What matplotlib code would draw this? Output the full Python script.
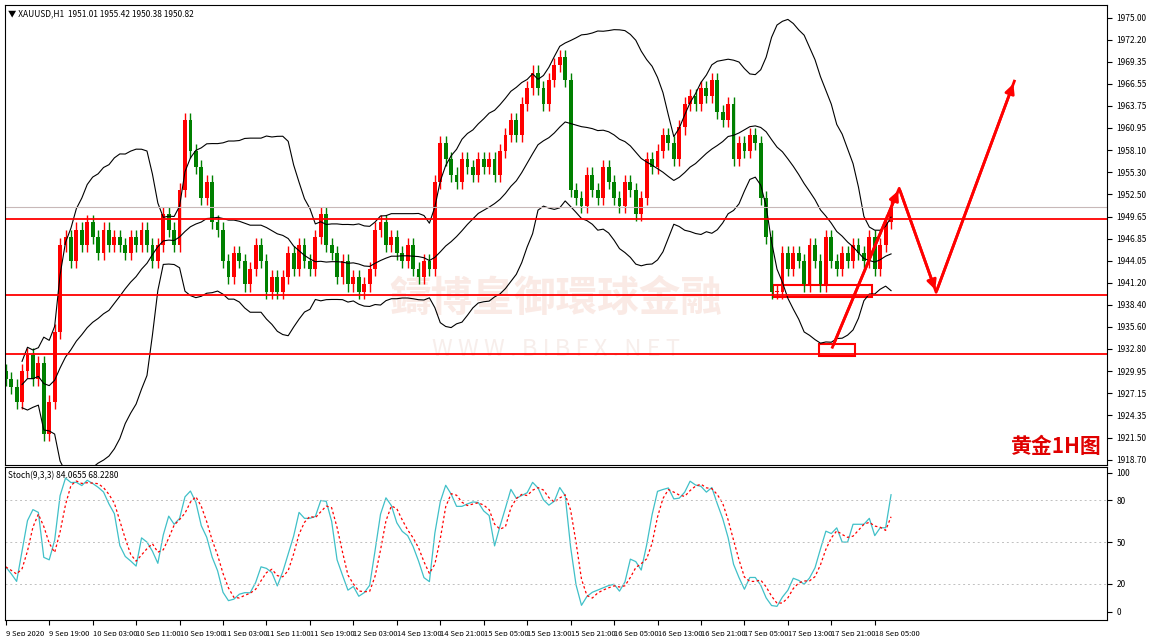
import numpy as np
import pandas as pd
import matplotlib.pyplot as plt
from matplotlib.patches import Rectangle

plt.rcParams['font.family'] = ['Noto Sans CJK SC', 'DejaVu Sans']

# hourly closes XAUUSD H1
closes = [
    1929, 1928, 1926, 1930, 1932, 1929, 1931, 1922, 1926, 1935,
    1946, 1947, 1944, 1948, 1946, 1949, 1947, 1945, 1948, 1946,
    1947, 1946, 1945, 1947, 1946, 1948, 1946, 1944, 1946, 1950,
    1948, 1946, 1953, 1962, 1958, 1956, 1952, 1954, 1949, 1948,
    1944, 1942, 1945, 1944, 1941, 1943, 1946, 1944, 1940, 1942,
    1940, 1942, 1945, 1943, 1946, 1944, 1943, 1947, 1950, 1946,
    1945, 1942, 1944, 1941, 1942, 1940, 1941, 1943, 1948, 1949,
    1946, 1947, 1945, 1944, 1946, 1943, 1942, 1944, 1943, 1954,
    1959, 1957, 1955, 1954, 1957, 1956, 1955, 1957, 1956, 1957,
    1955, 1958, 1960, 1962, 1960, 1964, 1966, 1968, 1966, 1964,
    1967, 1969, 1970, 1967, 1953, 1952, 1951, 1955, 1953, 1952,
    1956, 1954, 1952, 1951, 1954, 1953, 1950, 1952, 1957, 1956,
    1958, 1960, 1959, 1957, 1961, 1964, 1965, 1964, 1966, 1965,
    1967, 1963, 1962, 1964, 1957, 1959, 1958, 1960, 1959, 1952,
    1947, 1940, 1940, 1945, 1943, 1945, 1944, 1941, 1946, 1944,
    1941, 1947, 1944, 1943, 1945, 1944, 1946, 1945, 1944, 1947,
    1943, 1946, 1949, 1950.82,
]
first_open = 1930.0
wick = 0.9

time_labels = ["9 Sep 2020", "9 Sep 19:00", "10 Sep 03:00", "10 Sep 11:00", "10 Sep 19:00",
               "11 Sep 03:00", "11 Sep 11:00", "11 Sep 19:00", "12 Sep 03:00", "14 Sep 13:00",
               "14 Sep 21:00", "15 Sep 05:00", "15 Sep 13:00", "15 Sep 21:00", "16 Sep 05:00",
               "16 Sep 13:00", "16 Sep 21:00", "17 Sep 05:00", "17 Sep 13:00", "17 Sep 21:00",
               "18 Sep 05:00"]
price_ticks = [1975.00, 1972.20, 1969.35, 1966.55, 1963.75, 1960.95, 1958.10, 1955.30,
               1952.50, 1949.65, 1946.85, 1944.05, 1941.20, 1938.40, 1935.60, 1932.80,
               1929.95, 1927.15, 1924.35, 1921.50, 1918.70]
support_levels = [1949.4, 1939.7, 1932.2]
last_price = 1950.82
boxes = [(141.2, 1939.4, 159.4, 1940.9), (149.8, 1931.9, 156.4, 1933.4)]
path_x = [152.2, 164.5, 171.3, 185.7]
path_y = [1933.0, 1953.25, 1940.0, 1966.9]

c = pd.Series(closes, dtype=float)
o = c.shift(1).fillna(first_open)
h = np.maximum(o, c) + wick
l = np.minimum(o, c) - wick
mid = c.rolling(20, min_periods=4).mean()
sd = c.rolling(20, min_periods=4).std(ddof=0)
upper, lower = mid + 2 * sd, mid - 2 * sd
hh = h.rolling(9, min_periods=1).max()
ll = l.rolling(9, min_periods=1).min()
k = 100 * (c - ll).rolling(3, min_periods=1).sum() / (hh - ll).rolling(3, min_periods=1).sum()
d = k.rolling(3, min_periods=1).mean()

fig = plt.figure(figsize=(11.7, 6.36), dpi=100)
ax = fig.add_axes([0.004, 1 - 465 / 636, 1102 / 1170, 460 / 636])
ax2 = fig.add_axes([0.004, 1 - 620 / 636, 1102 / 1170, 153 / 636])
x = np.arange(len(c))

for i in x:
    col = "red" if c[i] >= o[i] else "green"
    ax.vlines(i, l[i], h[i], color=col, lw=1)
    ax.bar(i, abs(c[i] - o[i]) or 0.15, bottom=min(c[i], o[i]), width=0.7, color=col, lw=0)
for band in (upper, mid, lower):
    ax.plot(x, band, color="black", lw=0.8)
for lv in support_levels:
    ax.axhline(lv, color="red", lw=1.3)
ax.axhline(last_price, color="#c8b8b8", lw=0.8)
for x0, y0, x1, y1 in boxes:
    ax.add_patch(Rectangle((x0, y0), x1 - x0, y1 - y0, fill=False, ec="red", lw=1.5))
ax.plot(path_x, path_y, color="red", lw=2)
for j in range(3):
    ax.annotate("", xy=(path_x[j + 1], path_y[j + 1]), xytext=(path_x[j], path_y[j]),
                arrowprops=dict(arrowstyle="-|>", color="red", lw=2, mutation_scale=14))

ax.text(0.5, 0.36, "鑄博皇御環球金融", transform=ax.transAxes, ha="center", va="center",
        fontsize=30, color="#faeae5", fontweight="bold", zorder=0)
ax.text(0.5, 0.25, "W W W . B I B F X . N E T", transform=ax.transAxes, ha="center",
        va="center", fontsize=17, color="#f7eeeb", zorder=0)
ax.text(0.995, 0.04, "黄金1H图", transform=ax.transAxes, ha="right", va="center",
        fontsize=15, color="#e00000", fontweight="bold")
ax.text(0.003, 0.99, "▼ XAUUSD,H1  1951.01 1955.42 1950.38 1950.82", transform=ax.transAxes,
        ha="left", va="top", fontsize=6)

ax.set_xlim(-0.2, 202.7)
ax.set_ylim(1918.0, 1976.6)
ax.yaxis.tick_right()
ax.set_yticks(price_ticks)
ax.set_yticklabels([f"{t:.2f}" for t in price_ticks], fontsize=6)
ax.set_xticks([])

ax2.plot(x, k, color="#40c0c8", lw=0.9)
ax2.plot(x, d, color="red", lw=0.9, ls=(0, (2, 2)))
for lv in (80, 50, 20):
    ax2.axhline(lv, color="#c0c0c0", lw=0.7, ls=(0, (2, 3)))
ax2.set_xlim(-0.2, 202.7)
ax2.set_ylim(-6, 104)
ax2.yaxis.tick_right()
ax2.set_yticks([100, 80, 50, 20, 0])
ax2.tick_params(axis="y", labelsize=6)
ax2.set_xticks(np.arange(len(time_labels)) * 8)
ax2.set_xticklabels(time_labels, fontsize=5.5, ha="left")
ax2.text(0.003, 0.97, f"Stoch(9,3,3) {k.iloc[-1]:.4f} {d.iloc[-1]:.4f}", transform=ax2.transAxes,
         ha="left", va="top", fontsize=6)

fig.savefig("out.png", dpi=100)
